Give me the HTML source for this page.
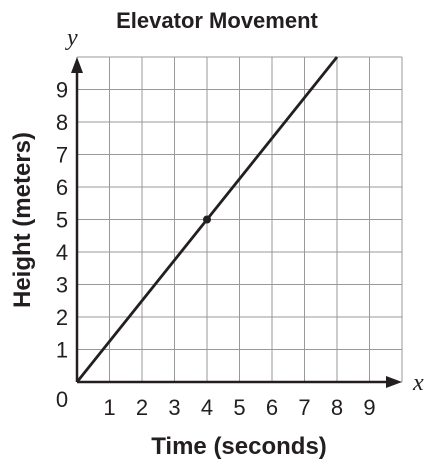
<!DOCTYPE html>
<html><head><style>
body{margin:0;background:#fff}
svg{display:block}
text{font-family:"Liberation Sans",sans-serif;fill:#231f20}
</style></head><body>
<svg width="434" height="472">
<g id="grid"></g>
<g id="marks"></g>
<text x="217" y="28" text-anchor="middle" font-size="22" font-weight="bold">Elevator Movement</text>
<text x="239" y="454" text-anchor="middle" font-size="24" font-weight="bold">Time (seconds)</text>
<text transform="translate(30,220) rotate(-90)" text-anchor="middle" font-size="24" font-weight="bold">Height (meters)</text>
<text x="413" y="390" font-size="24" font-style="italic" style="font-family:'Liberation Serif',serif">x</text>
<text x="67" y="45" font-size="24" font-style="italic" style="font-family:'Liberation Serif',serif">y</text>
<text x="62" y="407" text-anchor="middle" font-size="22">0</text>
</svg>
<script>
const xTicks=[1,2,3,4,5,6,7,8,9];
const yTicks=[1,2,3,4,5,6,7,8,9];
const lineX=[0,8];
const lineY=[0,10];
const pointX=[4];
const pointY=[5];
const X0=77,Y0=382,U=32.5;
const sx=v=>X0+v*U, sy=v=>Y0-v*U;
const NS='http://www.w3.org/2000/svg';
const svg=document.querySelector('svg'),grid=document.getElementById('grid'),marks=document.getElementById('marks');
function mk(tag,at,parent){const e=document.createElementNS(NS,tag);for(const k in at)e.setAttribute(k,at[k]);parent.appendChild(e);return e;}
for(let i=0;i<=10;i++){
  const v=mk('line',{x1:sx(i),x2:sx(i),y1:sy(0),y2:sy(10),stroke:'#999','stroke-width':1},grid);
  
  
  const h=mk('line',{x1:sx(0),x2:sx(10),y1:sy(i),y2:sy(i),stroke:'#999','stroke-width':1},grid);
  
  
}
const xa=mk('line',{x1:sx(0),x2:sx(10)-12,y1:Y0,y2:Y0,stroke:'#231f20','stroke-width':2.5},marks);


const xh=mk('polygon',{points:`${sx(10)},${Y0} ${sx(10)-16},${Y0-6} ${sx(10)-16},${Y0+6}`,fill:'#231f20'},marks);


const ya=mk('line',{x1:X0,x2:X0,y1:sy(0),y2:sy(10)+12,stroke:'#231f20','stroke-width':2.5},marks);


const yh=mk('polygon',{points:`${X0},${sy(10)} ${X0-6},${sy(10)+16} ${X0+6},${sy(10)+16}`,fill:'#231f20'},marks);


const ln=mk('line',{x1:sx(lineX[0]),y1:sy(lineY[0]),x2:sx(lineX[1]),y2:sy(lineY[1]),stroke:'#231f20','stroke-width':2.8},marks);


pointX.forEach((x,i)=>{const c=mk('circle',{cx:sx(x),cy:sy(pointY[i]),r:4,fill:'#231f20'},marks);

});
xTicks.forEach(t=>{const e=mk('text',{x:sx(t),y:415,'text-anchor':'middle','font-size':22},svg);e.textContent=t;

});
yTicks.forEach(t=>{const e=mk('text',{x:62,y:sy(t)+8,'text-anchor':'middle','font-size':22},svg);e.textContent=t;

});
</script>
</body></html>
